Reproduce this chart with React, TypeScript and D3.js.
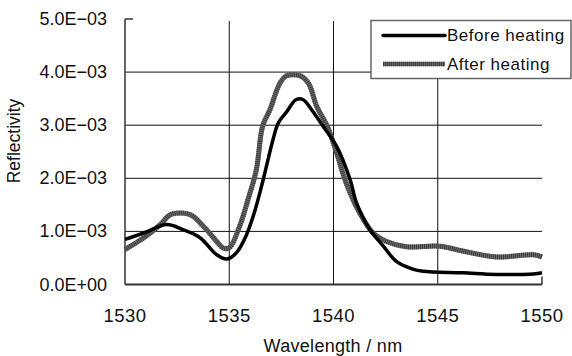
import React, {useEffect, useRef} from "react";
import * as d3 from "d3";

// wavelength (nm) / reflectivity
const beforeX = [1530, 1530.9, 1532.0, 1532.8, 1533.6, 1534.4, 1534.9, 1535.35, 1535.8, 1536.2, 1536.6, 1537.1, 1537.35, 1537.75, 1538.2, 1538.55, 1538.95, 1539.5, 1540.15, 1540.8, 1541.1, 1541.75, 1542.4, 1543.0, 1543.8, 1544.3, 1546.2, 1547.8, 1549.6, 1550];
const beforeY = [0.85, 0.97, 1.13, 1.03, 0.88, 0.56, 0.48, 0.60, 0.91, 1.35, 1.93, 2.73, 3.04, 3.25, 3.48, 3.48, 3.29, 2.98, 2.6, 1.97, 1.54, 1.03, 0.72, 0.44, 0.29, 0.25, 0.22, 0.19, 0.20, 0.22];
const afterX = [1530, 1530.9, 1531.7, 1532.2, 1533.1, 1533.75, 1534.4, 1534.7, 1535.0, 1535.5, 1535.9, 1536.3, 1536.6, 1536.95, 1537.43, 1537.75, 1538.4, 1538.8, 1539.2, 1539.7, 1540.15, 1540.6, 1541.25, 1541.9, 1542.55, 1543.5, 1545.1, 1546.2, 1547.8, 1549.6, 1550];
const afterY = [0.66, 0.88, 1.13, 1.32, 1.32, 1.10, 0.81, 0.69, 0.69, 1.10, 1.60, 2.16, 2.98, 3.29, 3.79, 3.93, 3.93, 3.79, 3.35, 2.98, 2.48, 1.92, 1.35, 0.97, 0.81, 0.71, 0.72, 0.63, 0.52, 0.56, 0.52];

const xTicks = [1530, 1535, 1540, 1545, 1550];
const yTicks = [0, 1e-3, 2e-3, 3e-3, 4e-3, 5e-3];
const seriesNames = ["Before heating", "After heating"];

const FONT = "'Liberation Sans', Arial, sans-serif";

const yFmt = (v: number) => v === 0 ? "0.0E+00" : (v * 1000).toFixed(1) + "E\u221203";

function hatched(sel: any, d: string | null, w: number) {
    // gray line with fine vertical stripes
    sel.append("path").attr("d", d)
        .attr("fill", "none").style("stroke", "#6e6e6e").style("stroke-width", w)
        .style("stroke-linejoin", "round");
    sel.append("path").attr("d", d)
        .attr("fill", "none").style("stroke", "#3a3a3a").style("stroke-width", w)
        .style("stroke-dasharray", "1,1");
}

function draw(node: SVGSVGElement) {
    const svg = d3.select(node);
    svg.selectAll("*").remove();

    let x = d3.scaleLinear().domain([1530, 1550]).range([125, 542]),
        y = d3.scaleLinear().domain([0, 5e-3]).range([284.5, 19]);

    // grid
    svg.append("g").selectAll("line")
        .data(yTicks.slice(1, 5))
        .enter().append("line")
            .attr("x1", x(1530)).attr("x2", x(1550))
            .attr("y1", d => y(d)).attr("y2", d => y(d))
            .style("stroke", "#111").style("stroke-width", 1);
    svg.append("g").selectAll("line")
        .data(xTicks.slice(1, 4))
        .enter().append("line")
            .attr("x1", d => x(d)).attr("x2", d => x(d))
            .attr("y1", y(5e-3) + 2).attr("y2", y(0))
            .style("stroke", "#111").style("stroke-width", 1);

    // inner ticks at the ends
    svg.append("line")
        .attr("x1", x(1530)).attr("x2", x(1530) + 8)
        .attr("y1", y(5e-3)).attr("y2", y(5e-3))
        .style("stroke", "#333").style("stroke-width", 1.5);
    svg.append("line")
        .attr("x1", x(1550)).attr("x2", x(1550))
        .attr("y1", y(0)).attr("y2", y(0) - 8)
        .style("stroke", "#333").style("stroke-width", 1.5);

    // axes lines
    svg.append("line")
        .attr("x1", x(1530)).attr("x2", x(1530))
        .attr("y1", y(5e-3)).attr("y2", y(0))
        .style("stroke", "#333").style("stroke-width", 1.5);
    svg.append("line")
        .attr("x1", x(1530)).attr("x2", x(1550))
        .attr("y1", y(0)).attr("y2", y(0))
        .style("stroke", "#333").style("stroke-width", 2);

    // tick labels
    svg.append("g").selectAll("text")
        .data(yTicks)
        .enter().append("text")
            .attr("x", 107).attr("y", d => y(d))
            .attr("text-anchor", "end")
            .attr("dominant-baseline", "central")
            .style("font-family", FONT).style("font-size", "18px").style("fill", "#111")
            .text(yFmt);
    svg.append("g").selectAll("text")
        .data(xTicks)
        .enter().append("text")
            .attr("x", d => x(d)).attr("y", 322)
            .attr("text-anchor", "middle")
            .style("font-family", FONT).style("font-size", "18.5px").style("fill", "#111")
            .style("letter-spacing", "0.5px")
            .text(d => d);

    svg.append("text")
        .attr("x", 333).attr("y", 352)
        .attr("text-anchor", "middle")
        .style("font-family", FONT).style("font-size", "18px").style("fill", "#111")
        .style("letter-spacing", "0.3px")
        .text("Wavelength / nm");
    svg.append("text")
        .attr("transform", "translate(20,141) rotate(-90)")
        .attr("text-anchor", "middle")
        .style("font-family", FONT).style("font-size", "17.5px").style("fill", "#111")
        .text("Reflectivity");

    // series
    const line = d3.line<[number, number]>()
        .curve(d3.curveCatmullRom.alpha(0.5))
        .x(d => x(d[0]))
        .y(d => y(d[1] * 1e-3));
    const after = afterX.map((v, i) => [v, afterY[i]] as [number, number]);
    const before = beforeX.map((v, i) => [v, beforeY[i]] as [number, number]);

    hatched(svg, line(after), 5);
    svg.append("path").attr("d", line(before))
        .attr("fill", "none").style("stroke", "#000").style("stroke-width", 3.5)
        .style("stroke-linejoin", "round");

    // legend
    const lg = svg.append("g");
    lg.append("rect")
        .attr("x", 371).attr("y", 20.5).attr("width", 200).attr("height", 58)
        .style("fill", "#fff").style("stroke", "#666").style("stroke-width", 1.5);
    seriesNames.forEach((name, i) => {
        const ly = 35.5 + i * 28.5;
        const seg = `M383,${ly}L445,${ly}`;
        if (i === 0) {
            lg.append("path").attr("d", seg)
                .style("stroke", "#000").style("stroke-width", 3.5).style("stroke-linecap", "round");
        } else {
            hatched(lg, seg, 4.5);
        }
        lg.append("text")
            .attr("x", 447).attr("y", ly)
            .attr("dominant-baseline", "central")
            .style("font-family", FONT).style("font-size", "17px").style("fill", "#111")
            .style("letter-spacing", "0.5px")
            .text(name);
    });
}

export default function App() {
    const ref = useRef<SVGSVGElement>(null);
    useEffect(() => { if (ref.current) draw(ref.current); });
    return <svg ref={ref} width={572} height={356}
                style={{position: "absolute", left: 0, top: 0, background: "#fff"}}></svg>;
}
